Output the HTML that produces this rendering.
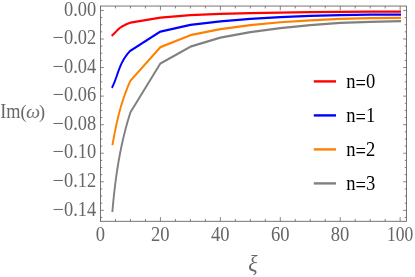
<!DOCTYPE html><html><head><meta charset="utf-8"><title>plot</title><style>html,body{margin:0;padding:0;background:#fff}svg{display:block;filter:blur(0.35px)}text{font-family:"Liberation Serif","DejaVu Serif",serif}</style></head><body>
<svg width="415" height="277" viewBox="0 0 415 277">
<rect width="415" height="277" fill="#fff"/>
<polyline transform="scale(1,1.17)" points="111.60,30.641 112.90,29.704 114.05,28.768 115.11,27.831 116.13,26.895 117.18,25.958 118.33,25.021 119.62,24.085 121.13,23.148 122.91,22.212 125.02,21.275 127.53,20.338 130.49,19.402 160.43,15.128 190.40,12.850 220.36,11.917 250.33,11.253 280.29,10.767 310.25,10.383 340.22,10.063 370.19,9.999 401.00,10.008" fill="none" stroke="#ff0000" stroke-width="1.9" stroke-linejoin="round"/>
<polyline transform="scale(1,1.17)" points="111.90,75.128 113.37,72.498 114.64,69.868 115.79,67.237 116.86,64.607 117.93,61.976 119.04,59.346 120.25,56.716 121.64,54.085 123.25,51.455 125.15,48.825 127.39,46.194 130.04,43.564 160.43,26.958 190.40,21.192 220.36,18.210 250.33,16.071 280.29,14.613 310.25,13.626 340.22,12.853 370.19,12.523 401.00,12.549" fill="none" stroke="#0000ff" stroke-width="1.9" stroke-linejoin="round"/>
<polyline transform="scale(1,1.17)" points="112.39,124.188 113.36,119.587 114.37,114.986 115.44,110.385 116.58,105.783 117.82,101.182 119.16,96.581 120.63,91.980 122.24,87.379 124.01,82.778 125.95,78.177 128.09,73.575 130.44,68.974 160.43,40.288 190.40,30.073 220.36,24.820 250.33,21.534 280.29,19.026 310.25,17.367 340.22,16.165 370.19,15.466 401.00,15.191" fill="none" stroke="#ff8000" stroke-width="1.9" stroke-linejoin="round"/>
<polyline transform="scale(1,1.17)" points="112.35,181.197 113.09,174.103 113.92,167.009 114.85,159.915 115.91,152.821 117.10,145.726 118.43,138.632 119.94,131.538 121.61,124.444 123.49,117.350 125.57,110.256 127.87,103.162 130.40,96.068 160.43,54.242 190.40,39.869 220.36,32.134 250.33,27.458 280.29,24.021 310.25,21.527 340.22,19.485 370.19,18.656 401.00,18.149" fill="none" stroke="#808080" stroke-width="1.9" stroke-linejoin="round"/>
<rect x="100.5" y="6.05" width="306.0" height="215.25" fill="none" stroke="#666666" stroke-width="0.9"/>
<path d="M100.50,221.3v-4.2M100.50,6.05v4.2M115.48,221.3v-2.4M115.48,6.05v2.4M130.47,221.3v-2.4M130.47,6.05v2.4M145.45,221.3v-2.4M145.45,6.05v2.4M160.43,221.3v-4.2M160.43,6.05v4.2M175.41,221.3v-2.4M175.41,6.05v2.4M190.40,221.3v-2.4M190.40,6.05v2.4M205.38,221.3v-2.4M205.38,6.05v2.4M220.36,221.3v-4.2M220.36,6.05v4.2M235.34,221.3v-2.4M235.34,6.05v2.4M250.33,221.3v-2.4M250.33,6.05v2.4M265.31,221.3v-2.4M265.31,6.05v2.4M280.29,221.3v-4.2M280.29,6.05v4.2M295.27,221.3v-2.4M295.27,6.05v2.4M310.25,221.3v-2.4M310.25,6.05v2.4M325.24,221.3v-2.4M325.24,6.05v2.4M340.22,221.3v-4.2M340.22,6.05v4.2M355.20,221.3v-2.4M355.20,6.05v2.4M370.19,221.3v-2.4M370.19,6.05v2.4M385.17,221.3v-2.4M385.17,6.05v2.4M400.15,221.3v-4.2M400.15,6.05v4.2M100.5,10.45h3.3M406.5,10.45h-3.3M100.5,17.59h1.8M406.5,17.59h-1.8M100.5,24.73h1.8M406.5,24.73h-1.8M100.5,31.87h1.8M406.5,31.87h-1.8M100.5,39.00h3.3M406.5,39.00h-3.3M100.5,46.14h1.8M406.5,46.14h-1.8M100.5,53.28h1.8M406.5,53.28h-1.8M100.5,60.42h1.8M406.5,60.42h-1.8M100.5,67.56h3.3M406.5,67.56h-3.3M100.5,74.70h1.8M406.5,74.70h-1.8M100.5,81.84h1.8M406.5,81.84h-1.8M100.5,88.97h1.8M406.5,88.97h-1.8M100.5,96.11h3.3M406.5,96.11h-3.3M100.5,103.25h1.8M406.5,103.25h-1.8M100.5,110.39h1.8M406.5,110.39h-1.8M100.5,117.53h1.8M406.5,117.53h-1.8M100.5,124.67h3.3M406.5,124.67h-3.3M100.5,131.80h1.8M406.5,131.80h-1.8M100.5,138.94h1.8M406.5,138.94h-1.8M100.5,146.08h1.8M406.5,146.08h-1.8M100.5,153.22h3.3M406.5,153.22h-3.3M100.5,160.36h1.8M406.5,160.36h-1.8M100.5,167.50h1.8M406.5,167.50h-1.8M100.5,174.64h1.8M406.5,174.64h-1.8M100.5,181.77h3.3M406.5,181.77h-3.3M100.5,188.91h1.8M406.5,188.91h-1.8M100.5,196.05h1.8M406.5,196.05h-1.8M100.5,203.19h1.8M406.5,203.19h-1.8M100.5,210.33h3.3M406.5,210.33h-3.3M100.5,217.47h1.8M406.5,217.47h-1.8" stroke="#666666" stroke-width="0.8" fill="none"/>
<text transform="translate(96.2,16.0) scale(1,1.09)" font-size="18.4" fill="#666666" text-anchor="end">0.00</text>
<text transform="translate(64.0,44.2) scale(1.1,1.09)" font-size="18.4" fill="#666666" text-anchor="end">−</text>
<text transform="translate(96.2,44.2) scale(1,1.09)" font-size="18.4" fill="#666666" text-anchor="end">0.02</text>
<text transform="translate(64.0,72.7) scale(1.1,1.09)" font-size="18.4" fill="#666666" text-anchor="end">−</text>
<text transform="translate(96.2,72.7) scale(1,1.09)" font-size="18.4" fill="#666666" text-anchor="end">0.04</text>
<text transform="translate(64.0,101.3) scale(1.1,1.09)" font-size="18.4" fill="#666666" text-anchor="end">−</text>
<text transform="translate(96.2,101.3) scale(1,1.09)" font-size="18.4" fill="#666666" text-anchor="end">0.06</text>
<text transform="translate(64.0,129.5) scale(1.1,1.09)" font-size="18.4" fill="#666666" text-anchor="end">−</text>
<text transform="translate(96.2,129.5) scale(1,1.09)" font-size="18.4" fill="#666666" text-anchor="end">0.08</text>
<text transform="translate(64.0,158.3) scale(1.1,1.09)" font-size="18.4" fill="#666666" text-anchor="end">−</text>
<text transform="translate(96.2,158.3) scale(1,1.09)" font-size="18.4" fill="#666666" text-anchor="end">0.10</text>
<text transform="translate(64.0,186.8) scale(1.1,1.09)" font-size="18.4" fill="#666666" text-anchor="end">−</text>
<text transform="translate(96.2,186.8) scale(1,1.09)" font-size="18.4" fill="#666666" text-anchor="end">0.12</text>
<text transform="translate(64.0,216.0) scale(1.1,1.09)" font-size="18.4" fill="#666666" text-anchor="end">−</text>
<text transform="translate(96.2,216.0) scale(1,1.09)" font-size="18.4" fill="#666666" text-anchor="end">0.14</text>
<text transform="translate(100.4,240.9) scale(1,1.08)" font-size="18.6" fill="#666666" text-anchor="middle">0</text>
<text transform="translate(160.3,240.9) scale(1,1.08)" font-size="18.6" fill="#666666" text-anchor="middle">20</text>
<text transform="translate(220.3,240.9) scale(1,1.08)" font-size="18.6" fill="#666666" text-anchor="middle">40</text>
<text transform="translate(280.2,240.9) scale(1,1.08)" font-size="18.6" fill="#666666" text-anchor="middle">60</text>
<text transform="translate(340.1,240.9) scale(1,1.08)" font-size="18.6" fill="#666666" text-anchor="middle">80</text>
<text transform="translate(400.1,240.9) scale(0.94,1.08)" font-size="18.6" fill="#666666" text-anchor="middle">100</text>
<text transform="translate(0.2,118.4) scale(1,1.15)" font-size="18.3" fill="#666666">Im</text>
<text transform="translate(20.5,118.4) scale(1,1.05)" font-size="18.3" fill="#666666">(</text>
<text transform="translate(26.0,118.4) scale(1.17,1.12)" font-size="17.2" font-style="italic" fill="#707070">ω</text>
<text transform="translate(38.9,118.4) scale(1,1.05)" font-size="18.3" fill="#666666">)</text>
<text transform="translate(253,271.3) scale(1,1.07)" font-size="21.7" fill="#666666" text-anchor="middle" font-style="italic">ξ</text>
<line x1="313.8" x2="336" y1="81.4" y2="81.4" stroke="#ff0000" stroke-width="2.4"/>
<text transform="translate(346.3,87.9) scale(1,1.10)" font-size="18.6" fill="#000">n<tspan dy="1.6">=</tspan><tspan dy="-1.6">0</tspan></text>
<line x1="313.8" x2="336" y1="115.4" y2="115.4" stroke="#0000ff" stroke-width="2.4"/>
<text transform="translate(346.3,121.9) scale(1,1.10)" font-size="18.6" fill="#000">n<tspan dy="1.6">=</tspan><tspan dy="-1.6">1</tspan></text>
<line x1="313.8" x2="336" y1="149.4" y2="149.4" stroke="#ff8000" stroke-width="2.4"/>
<text transform="translate(346.3,155.9) scale(1,1.10)" font-size="18.6" fill="#000">n<tspan dy="1.6">=</tspan><tspan dy="-1.6">2</tspan></text>
<line x1="313.8" x2="336" y1="183.4" y2="183.4" stroke="#808080" stroke-width="2.4"/>
<text transform="translate(346.3,189.9) scale(1,1.10)" font-size="18.6" fill="#000">n<tspan dy="1.6">=</tspan><tspan dy="-1.6">3</tspan></text>
</svg></body></html>
